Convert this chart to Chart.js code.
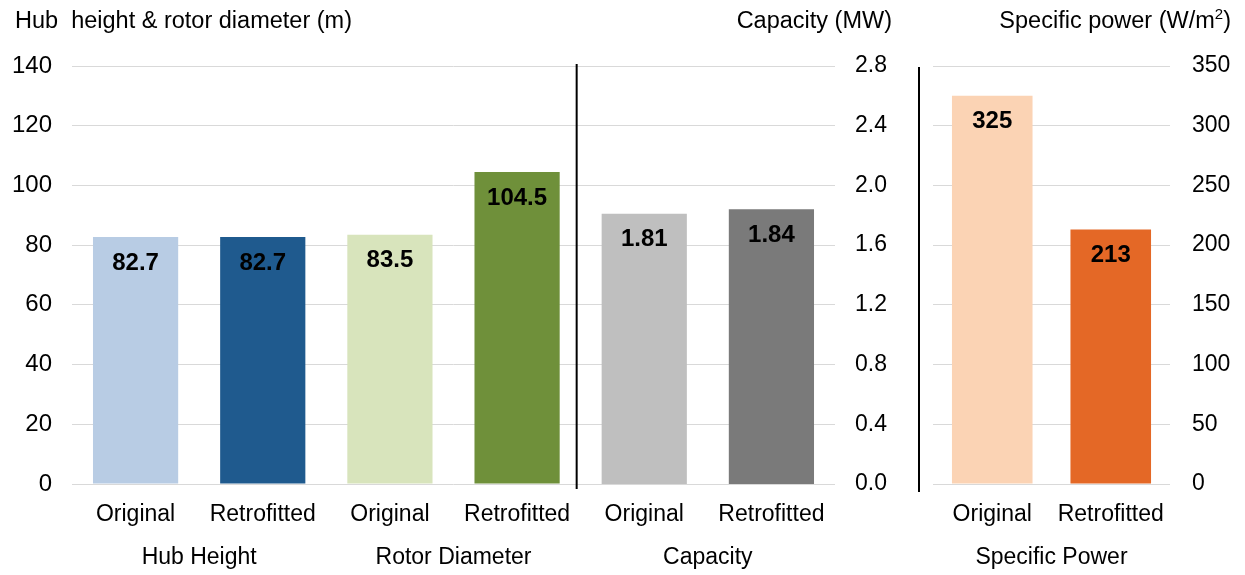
<!DOCTYPE html>
<html>
<head>
<meta charset="utf-8">
<script src="https://cdn.jsdelivr.net/npm/chart.js@4"></script>
<style>
  body { margin: 0; background: #fff; }
  #wrap { position: relative; width: 1245px; height: 575px; font-family: "Liberation Sans", Arial, sans-serif; color: #000; }
  canvas { position: absolute; top: 0; }
  .ttl { position: absolute; top: 7px; font-size: 23.5px; line-height: 26px; white-space: nowrap; }
  .ttl sup { font-size: 15px; line-height: 0; vertical-align: 9px; }
</style>
</head>
<body>
<div id="wrap">
  <canvas id="left" width="900" height="575" style="left:0"></canvas>
  <canvas id="right" width="345" height="575" style="left:900px"></canvas>
  <div class="ttl" style="left:15px">Hub&nbsp; height &amp; rotor diameter (m)</div>
  <div class="ttl" style="right:353px">Capacity (MW)</div>
  <div class="ttl" style="right:14px">Specific power (W/m<sup>2</sup>)</div>
</div>
<script>
var barLabels = ["Original", "Retrofitted", "Original", "Retrofitted", "Original", "Retrofitted"];
var groupLabels = ["Hub Height", "Rotor Diameter", "Capacity"];
var metres = [82.7, 82.7, 83.5, 104.5, null, null];
var capacity = [null, null, null, null, 1.81, 1.84];
var metreColors = ["#B8CCE4", "#1F5A8E", "#D8E4BC", "#6F903A"];
var capColors = [null, null, null, null, "#BFBFBF", "#7A7A7A"];

var spLabels = ["Original", "Retrofitted"];
var spGroup = ["Specific Power"];
var specificPower = [325, 213];
var spColors = ["#FBD3B4", "#E46826"];

var fontReg = { family: "'Liberation Sans', Arial, sans-serif", size: 23 };
var gridColor = "#D9D9D9";

// value labels inside the top of each bar
var valueLabels = {
  id: 'valueLabels',
  afterDatasetsDraw: function(chart) {
    var ctx = chart.ctx;
    ctx.save();
    ctx.font = "bold 24px 'Liberation Sans', Arial, sans-serif";
    ctx.fillStyle = "#000";
    ctx.textAlign = "center";
    ctx.textBaseline = "middle";
    chart.data.datasets.forEach(function(ds, i) {
      var meta = chart.getDatasetMeta(i);
      meta.data.forEach(function(bar, j) {
        var v = ds.data[j];
        if (v === null) return;
        ctx.fillText(ds.fmt ? ds.fmt(v) : String(v), bar.x, bar.y + 26);
      });
    });
    ctx.restore();
  }
};

// black separator line
function separator(getX, y0, y1) {
  return {
    id: 'separator',
    afterDraw: function(chart) {
      var ctx = chart.ctx;
      ctx.save();
      ctx.strokeStyle = "#000";
      ctx.lineWidth = 2;
      ctx.beginPath();
      var x = getX(chart);
      ctx.moveTo(x, y0);
      ctx.lineTo(x, y1);
      ctx.stroke();
      ctx.restore();
    }
  };
}

new Chart(document.getElementById("left"), {
  type: 'bar',
  data: {
    labels: barLabels,
    datasets: [{
      data: metres,
      yAxisID: 'y',
      backgroundColor: metreColors,
      grouped: false,
      fmt: function(v) { return v.toFixed(1); }
    }, {
      data: capacity,
      yAxisID: 'y1',
      backgroundColor: capColors,
      grouped: false,
      fmt: function(v) { return v.toFixed(2); }
    }]
  },
  options: {
    responsive: false,
    animation: false,
    layout: { padding: { top: 66, left: 0, right: 0, bottom: 0 } },
    plugins: { legend: { display: false }, tooltip: { enabled: false } },
    datasets: { bar: { categoryPercentage: 1, barPercentage: 0.67 } },
    scales: {
      x: {
        grid: { display: false },
        border: { display: false },
        ticks: { color: "#000", font: fontReg, padding: 9, maxRotation: 0 },
        afterFit: function(s) { s.height = 45; }
      },
      x2: {
        type: 'category',
        position: 'bottom',
        labels: groupLabels,
        offset: true,
        grid: { display: false },
        border: { display: false },
        ticks: { color: "#000", font: fontReg, padding: 7, maxRotation: 0 },
        afterFit: function(s) { s.height = 46; }
      },
      y: {
        min: 0, max: 140,
        ticks: { stepSize: 20, color: "#000", font: { family: fontReg.family, size: 24 }, padding: 20 },
        grid: { color: gridColor, drawTicks: false },
        border: { display: false },
        afterFit: function(s) { s.width = 72; }
      },
      y1: {
        position: 'right',
        min: 0, max: 2.8,
        ticks: { stepSize: 0.4, color: "#000", font: fontReg, padding: 20,
                 callback: function(v) { return v.toFixed(1); } },
        grid: { display: false, drawTicks: false },
        border: { display: false },
        afterFit: function(s) { s.width = 65; }
      }
    }
  },
  plugins: [valueLabels, separator(function(c) {
    var xs = c.scales.x;
    return (xs.getPixelForValue(3) + xs.getPixelForValue(4)) / 2 - 4;
  }, 64, 489)]
});

new Chart(document.getElementById("right"), {
  type: 'bar',
  data: {
    labels: spLabels,
    datasets: [{
      data: specificPower,
      backgroundColor: spColors,
      fmt: function(v) { return String(v); }
    }]
  },
  options: {
    responsive: false,
    animation: false,
    layout: { padding: { top: 66, left: 33, right: 0, bottom: 0 } },
    plugins: { legend: { display: false }, tooltip: { enabled: false } },
    datasets: { bar: { categoryPercentage: 1, barPercentage: 0.68 } },
    scales: {
      x: {
        grid: { display: false },
        border: { display: false },
        ticks: { color: "#000", font: fontReg, padding: 9, maxRotation: 0 },
        afterFit: function(s) { s.height = 45; }
      },
      x2: {
        type: 'category',
        position: 'bottom',
        labels: spGroup,
        offset: true,
        grid: { display: false },
        border: { display: false },
        ticks: { color: "#000", font: fontReg, padding: 7, maxRotation: 0 },
        afterFit: function(s) { s.height = 46; }
      },
      y: {
        position: 'right',
        min: 0, max: 350,
        ticks: { stepSize: 50, color: "#000", font: fontReg, padding: 22 },
        grid: { color: gridColor, drawTicks: false },
        border: { display: false },
        afterFit: function(s) { s.width = 75; }
      }
    }
  },
  plugins: [valueLabels, separator(function(c) {
    return c.chartArea.left - 14;
  }, 67, 492)]
});
</script>
</body>
</html>
